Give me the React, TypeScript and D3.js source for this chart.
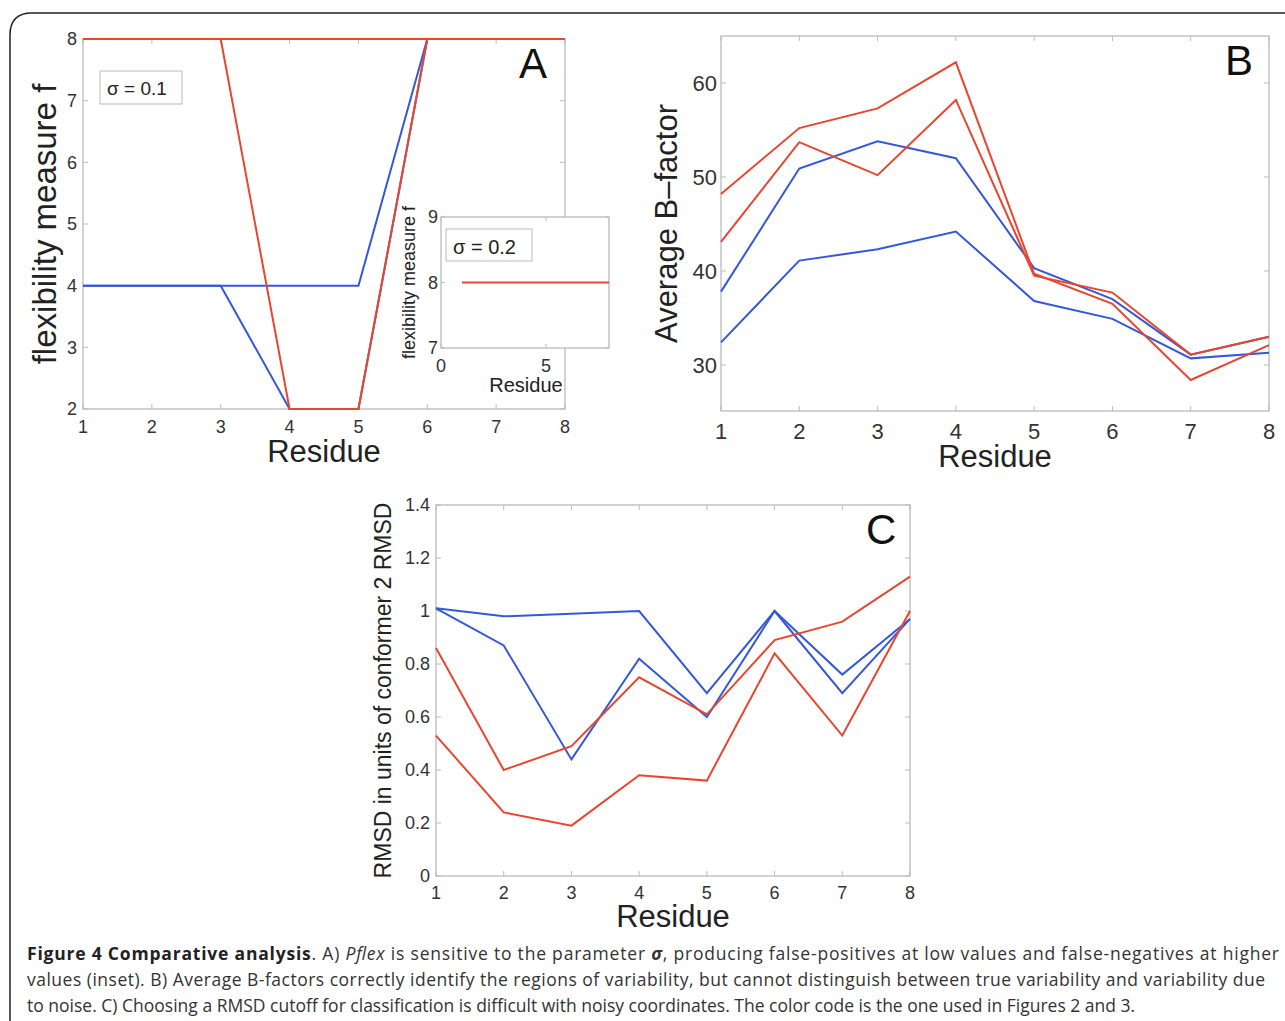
import React from "react";
import * as d3 from "d3";

const residues = [1, 2, 3, 4, 5, 6, 7, 8];
const aRed1 = [8, 8, 8, 8, 8, 8, 8, 8];
const aRed2 = [8, 8, 8, 2, 2, 8, 8, 8];
const aBlue1 = [4, 4, 4, 4, 4, 8, 8, 8];
const aBlue2 = [4, 4, 4, 2, 2, 8, 8, 8];
const insetX = [1, 8];
const insetRed = [8, 8];
const bRed1 = [48.2, 55.2, 57.3, 62.2, 39.7, 36.5, 28.4, 32.1];
const bRed2 = [43.1, 53.7, 50.2, 58.2, 39.5, 37.7, 31.1, 33.0];
const bBlue1 = [37.8, 50.9, 53.8, 52.0, 40.3, 37.0, 31.1, 33.0];
const bBlue2 = [32.4, 41.1, 42.3, 44.2, 36.8, 34.9, 30.7, 31.3];
const cBlue1 = [1.01, 0.98, 0.99, 1.0, 0.69, 1.0, 0.76, 0.97];
const cBlue2 = [1.01, 0.87, 0.44, 0.82, 0.6, 1.0, 0.69, 0.97];
const cRed1 = [0.86, 0.4, 0.49, 0.75, 0.61, 0.89, 0.96, 1.13];
const cRed2 = [0.53, 0.24, 0.19, 0.38, 0.36, 0.84, 0.53, 1.0];
const aTicksY = [2, 3, 4, 5, 6, 7, 8];
const bTicksY = [30, 40, 50, 60];
const cTicksY = [0, 0.2, 0.4, 0.6, 0.8, 1, 1.2, 1.4];

const RED = "#e8462e";
const BLUE = "#3558d8";
const FONT = "Liberation Sans, Arial, sans-serif";

type Series = { xs: number[]; ys: number[]; color: string };

function Panel(props: {
  x0: number; x1: number; y0: number; y1: number;
  xd: [number, number]; yd: [number, number];
  xt: number[]; yt: number[]; series: Series[];
  fmtY?: (v: number) => string; tickFont?: number; tickLen?: number;
  yLabel?: string; yLabelX?: number; yLabelSize?: number;
  xLabel?: string; xLabelY?: number; xLabelSize?: number; xLabelX?: number;
  letter?: string; letterX?: number; letterY?: number; yTickDx?: number; xTickDy?: number;
}) {
  const p = props;
  const x = d3.scaleLinear().domain(p.xd).range([p.x0, p.x1]);
  const y = d3.scaleLinear().domain(p.yd).range([p.y1, p.y0]);
  const tf = p.tickFont ?? 18;
  const tl = p.tickLen ?? 5;
  const line = d3.line<number>();
  return (
    <g>
      <rect x={p.x0} y={p.y0} width={p.x1 - p.x0} height={p.y1 - p.y0} fill="#fff" stroke="#bbb" strokeWidth={1.3} />
      {p.xt.map((t) => (
        <g key={"x" + t}>
          <line x1={x(t)} x2={x(t)} y1={p.y1} y2={p.y1 - tl} stroke="#bbb" />
          <line x1={x(t)} x2={x(t)} y1={p.y0} y2={p.y0 + tl} stroke="#bbb" />
          <text x={x(t)} y={p.y1 + (p.xTickDy ?? 24)} textAnchor="middle" fontSize={tf} fill="#333" fontFamily={FONT}>{t}</text>
        </g>
      ))}
      {p.yt.map((t) => (
        <g key={"y" + t}>
          <line x1={p.x0} x2={p.x0 + tl} y1={y(t)} y2={y(t)} stroke="#bbb" />
          <line x1={p.x1} x2={p.x1 - tl} y1={y(t)} y2={y(t)} stroke="#bbb" />
          <text x={p.x0 - (p.yTickDx ?? 6)} y={y(t) + tf * 0.35} textAnchor="end" fontSize={tf} fill="#333" fontFamily={FONT}>{p.fmtY ? p.fmtY(t) : t}</text>
        </g>
      ))}
      {p.series.map((s, i) => (
        <path key={i} d={line(s.xs.map((v, j) => [x(v), y(s.ys[j])]) as any) || ""} fill="none" stroke={s.color} strokeWidth={2} />
      ))}
      {p.yLabel && (
        <text transform={`translate(${p.yLabelX},${(p.y0 + p.y1) / 2}) rotate(-90)`} textAnchor="middle" fontSize={p.yLabelSize ?? 28} fill="#222" fontFamily={FONT}>{p.yLabel}</text>
      )}
      {p.xLabel && (
        <text x={p.xLabelX ?? (p.x0 + p.x1) / 2} y={p.xLabelY} textAnchor="middle" fontSize={p.xLabelSize ?? 31} fill="#222" fontFamily={FONT}>{p.xLabel}</text>
      )}
      {p.letter && (
        <text x={p.letterX} y={p.letterY} fontSize={42} fill="#111" fontFamily={FONT}>{p.letter}</text>
      )}
    </g>
  );
}

export default function App() {
  return (
    <svg width={1285} height={1021} style={{ position: "absolute", left: 0, top: 0 }}>
      <rect width={1285} height={1021} fill="#fff" />
      <path d="M10,1021 L10,35 Q10,13 32,13 L1285,13" fill="none" stroke="#222" strokeWidth={1.5} />
      <Panel x0={83} x1={565} y0={39} y1={409} xd={[1, 8]} yd={[2, 8]} xt={residues} yt={aTicksY}
        series={[
          { xs: residues, ys: aBlue1, color: BLUE },
          { xs: residues, ys: aBlue2, color: BLUE },
          { xs: residues, ys: aRed1, color: RED },
          { xs: residues, ys: aRed2, color: RED },
        ]}
        yLabel="flexibility measure f" yLabelX={56} yLabelSize={33} xLabel="Residue" xLabelY={462}
        letter="A" letterX={519} letterY={78} xTickDy={24} />
      <rect x={100} y={71} width={82} height={33} fill="#fff" stroke="#bbb" />
      <text x={107} y={95} fontSize={19} fill="#222" fontFamily={FONT}>σ = 0.1</text>
      <Panel x0={441} x1={609} y0={217} y1={348} xd={[0, 8]} yd={[7, 9]} xt={[0, 5]} yt={[7, 8, 9]}
        series={[{ xs: insetX, ys: insetRed, color: RED }]} tickFont={18} tickLen={4}
        yLabel="flexibility measure f" yLabelX={415} yLabelSize={18}
        xLabel="Residue" xLabelY={392} xLabelSize={20} xLabelX={526} xTickDy={24} yTickDx={3} />
      <rect x={446} y={229} width={86} height={32} fill="#fff" stroke="#bbb" />
      <text x={453} y={254} fontSize={20} fill="#222" fontFamily={FONT}>σ = 0.2</text>
      <Panel x0={721} x1={1269} y0={36} y1={411} xd={[1, 8]} yd={[25.1, 65]} xt={residues} yt={bTicksY}
        series={[
          { xs: residues, ys: bBlue1, color: BLUE },
          { xs: residues, ys: bBlue2, color: BLUE },
          { xs: residues, ys: bRed1, color: RED },
          { xs: residues, ys: bRed2, color: RED },
        ]}
        tickFont={22} yTickDx={4} xTickDy={28}
        yLabel="Average B–factor" yLabelX={677} yLabelSize={31} xLabel="Residue" xLabelY={467}
        letter="B" letterX={1225} letterY={75} />
      <Panel x0={436} x1={910} y0={505} y1={876} xd={[1, 8]} yd={[0, 1.4]} xt={residues} yt={cTicksY}
        fmtY={(v) => String(+v.toFixed(1))}
        series={[
          { xs: residues, ys: cBlue1, color: BLUE },
          { xs: residues, ys: cBlue2, color: BLUE },
          { xs: residues, ys: cRed1, color: RED },
          { xs: residues, ys: cRed2, color: RED },
        ]}
        yLabel="RMSD in units of conformer 2 RMSD" yLabelX={391} yLabelSize={23}
        xLabel="Residue" xLabelY={927} letter="C" letterX={866} letterY={544} xTickDy={23} />
      <g fontFamily="Open Sans, sans-serif" fontSize={17.5} fill="#333">
        <text x={27} y={960} textLength={1252} lengthAdjust="spacing"><tspan fontWeight="bold" fill="#222">Figure 4 Comparative analysis</tspan>. A) <tspan fontStyle="italic">Pflex</tspan> is sensitive to the parameter <tspan fontStyle="italic" fontWeight="bold">σ</tspan>, producing false-positives at low values and false-negatives at higher</text>
        <text x={27} y={986} textLength={1238} lengthAdjust="spacing">values (inset). B) Average B-factors correctly identify the regions of variability, but cannot distinguish between true variability and variability due</text>
        <text x={27} y={1012}>to noise. C) Choosing a RMSD cutoff for classification is difficult with noisy coordinates. The color code is the one used in Figures 2 and 3.</text>
      </g>
    </svg>
  );
}
